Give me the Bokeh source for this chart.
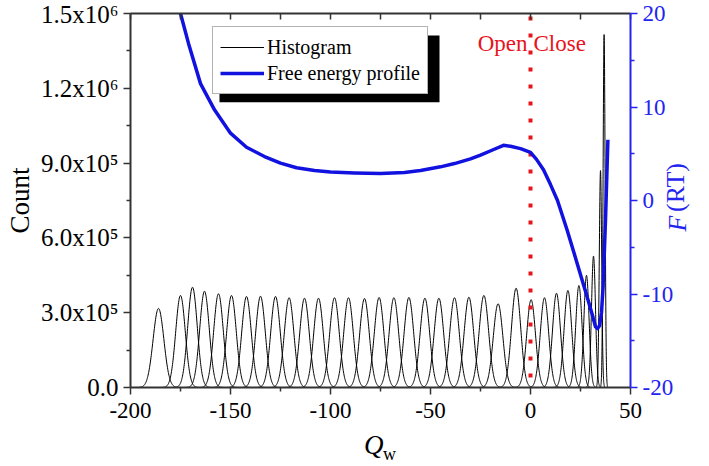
import numpy as np
from bokeh.plotting import figure
from bokeh.models import (Range1d, LinearAxis, FixedTicker, Label, Legend, LegendItem,
                          BoxAnnotation)
from bokeh.embed import file_html
from bokeh.resources import INLINE

# ---- data ----
peak_centers = [-186, -175, -169, -163, -156, -149.5, -142, -135, -127.5, -120.7,
                -113, -106, -98, -91, -83, -75.7, -68.3, -60.8, -52.8, -45.8,
                -38, -30.8, -23.3, -16.2, -7.2, 0.3, 7, 13, 18.7, 24.2,
                28, 31.5, 35, 36.8]
peak_heights_k = [317, 369, 402, 386, 376, 369, 365, 366, 365, 360,
                  358, 358, 360, 360, 357, 361, 360, 361, 358, 358,
                  360, 362, 369, 336, 398, 352, 360, 378, 389, 409,
                  450, 527, 870, 1416]
peak_widths = [2.7, 2.4, 2.4, 2.4, 2.4, 2.4, 2.4, 2.4, 2.4, 2.4,
               2.4, 2.4, 2.4, 2.4, 2.4, 2.4, 2.4, 2.4, 2.4, 2.4,
               2.4, 2.4, 2.4, 2.4, 2.3, 2.2, 2.1, 2.0, 1.9, 1.6,
               1.3, 1.0, 0.6, 0.5]

fe_q = [-175, -171, -165, -158, -150, -142, -133, -125, -117, -108,
        -100, -88, -75, -63, -55, -45, -38, -30, -25, -19,
        -13.5, -10, -5, 0, 3, 6.5, 10, 13.5, 18.3, 23.3,
        28.3, 31, 32.5, 33.5, 34.5, 35.5, 36.3, 37.5, 38.7]
fe_f = [20, 16.8, 12.5, 9.7, 7.2, 5.7, 4.7, 4.0, 3.5, 3.2,
        3.05, 2.95, 2.9, 3.0, 3.2, 3.6, 3.95, 4.45, 4.85, 5.4,
        5.9, 5.8, 5.55, 5.15, 4.4, 3.3, 1.7, 0.0, -3.15, -6.7,
        -10.3, -12.3, -13.5, -13.7, -13.4, -12.0, -9.2, -2.1, 6.5]

x_ticks = [-200, -150, -100, -50, 0, 50]
x_tick_labels = ["-200", "-150", "-100", "-50", "0", "50"]
top_ticks = [-200, -175, -150, -125, -100, -75, -50, -25, 0, 25, 50]
count_ticks = [0, 300000, 600000, 900000, 1200000, 1500000]
count_tick_labels = ["0.0", "3.0x10\u2075", "6.0x10\u2075", "9.0x10\u2075",
                     "1.2x10\u2076", "1.5x10\u2076"]
f_ticks = [-20, -10, 0, 10, 20]
f_tick_labels = ["-20", "-10", "0", "10", "20"]
divider_q = 0

SERIF = "Liberation Serif"
BLUE = "#1212e0"
AXBLUE = "#2424f0"
RED = "#e8141c"
DARK = "#333333"
NB = "\u00a0"

p = figure(width=709, height=466, output_backend="svg", toolbar_location=None,
           x_range=Range1d(-200, 50), y_range=Range1d(0, 1500000),
           min_border_left=130, min_border_right=79, min_border_top=13,
           min_border_bottom=78)
p.extra_y_ranges = {"F": Range1d(-20, 20)}
p.grid.visible = False
p.outline_line_color = None
p.background_fill_color = "white"
p.border_fill_color = "white"

def mids(t):
    return [(a + b) / 2 for a, b in zip(t[:-1], t[1:])]

def style_ticks(ax, color, size):
    ax.axis_line_color = color
    ax.axis_line_width = 2
    ax.major_tick_line_color = color
    ax.minor_tick_line_color = color
    ax.major_tick_line_width = 1.5
    ax.minor_tick_line_width = 1.5
    ax.major_tick_in = 0
    ax.major_tick_out = 7
    ax.minor_tick_in = 0
    ax.minor_tick_out = 4
    ax.major_label_text_font = SERIF
    ax.major_label_text_font_size = size

def title_axis(side_range=None, **kw):
    extra = {} if side_range is None else {"y_range_name": side_range}
    ax = LinearAxis(ticker=FixedTicker(ticks=[], minor_ticks=[]),
                    axis_line_color=None, major_tick_line_color=None,
                    minor_tick_line_color=None, major_tick_in=0, major_tick_out=0,
                    minor_tick_in=0, minor_tick_out=0, major_label_standoff=0,
                    major_label_text_font_size="0px", axis_label_text_font=SERIF,
                    **extra, **kw)
    return ax

# bottom axis
xa = p.xaxis[0]
xa.ticker = FixedTicker(ticks=x_ticks, minor_ticks=mids(x_ticks))
xa.major_label_overrides = {t: s for t, s in zip(x_ticks, x_tick_labels)}
style_ticks(xa, DARK, "23px")
xa.major_label_text_color = "black"
xa.major_label_standoff = 8
xa.axis_label = "Q" + NB * 2
xa.axis_label_text_font = SERIF
xa.axis_label_text_font_style = "italic"
xa.axis_label_text_font_size = "27px"
xa.axis_label_text_color = "black"
xa.axis_label_standoff = 9

# subscript "w" of the x-axis title
p.add_layout(title_axis(axis_label=NB * 4 + "w", axis_label_text_font_style="normal",
                        axis_label_text_font_size="18px", axis_label_text_color="black",
                        axis_label_standoff=-19), "below")

# left axis
ya = p.yaxis[0]
ya.ticker = FixedTicker(ticks=count_ticks, minor_ticks=mids(count_ticks))
ya.major_label_overrides = {t: s for t, s in zip(count_ticks, count_tick_labels)}
style_ticks(ya, DARK, "25px")
ya.major_label_text_color = "black"
ya.major_label_standoff = 5
ya.axis_label = "Count"
ya.axis_label_text_font = SERIF
ya.axis_label_text_font_style = "normal"
ya.axis_label_text_font_size = "27px"
ya.axis_label_text_color = "black"
ya.axis_label_standoff = 3

# top axis (ticks only)
ta = LinearAxis(ticker=FixedTicker(ticks=top_ticks, minor_ticks=[]),
                axis_line_color=DARK, axis_line_width=2,
                major_tick_line_color=DARK, major_tick_line_width=1.5,
                major_tick_in=6, major_tick_out=0, minor_tick_in=0, minor_tick_out=0,
                major_label_text_font_size="0px", major_label_standoff=0)
ta.major_label_overrides = {t: "" for t in top_ticks}
p.add_layout(ta, "above")

# right axis (ticks + labels)
ra = LinearAxis(y_range_name="F", ticker=FixedTicker(ticks=f_ticks, minor_ticks=mids(f_ticks)))
style_ticks(ra, AXBLUE, "23px")
ra.major_label_overrides = {t: s for t, s in zip(f_ticks, f_tick_labels)}
ra.major_label_text_color = AXBLUE
ra.major_label_standoff = 5
p.add_layout(ra, "right")

# right axis title: "(RT)" upright, "F" italic, same column, reading upwards
has_align = "axis_label_align" in ra.properties()
if has_align:
    rt_text = NB * 27 + "(RT)"
    f_text = NB * 24 + "F"
else:
    rt_text = NB * 5 + "(RT)"
    f_text = "F"
ra2 = title_axis("F", axis_label=rt_text, axis_label_text_font_style="normal",
                 axis_label_text_font_size="26px", axis_label_text_color=AXBLUE,
                 axis_label_standoff=-1)
ra2.axis_label_orientation = float(np.pi / 2)
ra3 = title_axis("F", axis_label=f_text, axis_label_text_font_style="italic",
                 axis_label_text_font_size="26px", axis_label_text_color=AXBLUE,
                 axis_label_standoff=-30)
ra3.axis_label_orientation = float(np.pi / 2)
if has_align:
    ra2.axis_label_align = "start"
    ra3.axis_label_align = "start"
p.add_layout(ra2, "right")
p.add_layout(ra3, "right")

# histograms (one window per peak)
xs, ys = [], []
for c, h, s in zip(peak_centers, peak_heights_k, peak_widths):
    x = np.linspace(c - 4.2 * s, c + 4.2 * s, 160)
    xs.append(x.tolist())
    ys.append((h * 1000 * np.exp(-0.5 * ((x - c) / s) ** 2)).tolist())
hist_r = p.multi_line(xs=xs, ys=ys, line_color="black", line_width=1)

# open/close divider
p.segment(x0=[divider_q], y0=[1500000], x1=[divider_q], y1=[0],
          line_color=RED, line_width=4, line_dash="4 13", line_dash_offset=14,
          line_cap="butt")

# free energy profile
fe_r = p.line(fe_q, fe_f, y_range_name="F", line_color=BLUE, line_width=3.5,
              line_join="round")

# legend shadow + legend
p.add_layout(BoxAnnotation(left=-155.5, right=-45.5, top=1412000, bottom=1144000,
                           fill_color="black", fill_alpha=1.0, line_color=None))
leg = Legend(items=[LegendItem(label="Histogram", renderers=[hist_r]),
                    LegendItem(label="Free energy profile", renderers=[fe_r])],
             location=(82, 293), margin=0, padding=7, spacing=0,
             glyph_width=44, glyph_height=26, label_height=26, label_standoff=3,
             label_text_font=SERIF, label_text_font_size="20px",
             label_text_color="black",
             border_line_color="#666666", border_line_width=1,
             background_fill_color="white", background_fill_alpha=1.0)
p.add_layout(leg, "center")

# Open / Close texts
p.add_layout(Label(x=-1.5, y=1380000, text="Open", text_align="right",
                   text_baseline="alphabetic", text_font=SERIF,
                   text_font_size="23px", text_color=RED))
p.add_layout(Label(x=1.5, y=1380000, text="Close", text_align="left",
                   text_baseline="alphabetic", text_font=SERIF,
                   text_font_size="23px", text_color=RED))

open("out.html", "w").write(file_html(p, INLINE))
